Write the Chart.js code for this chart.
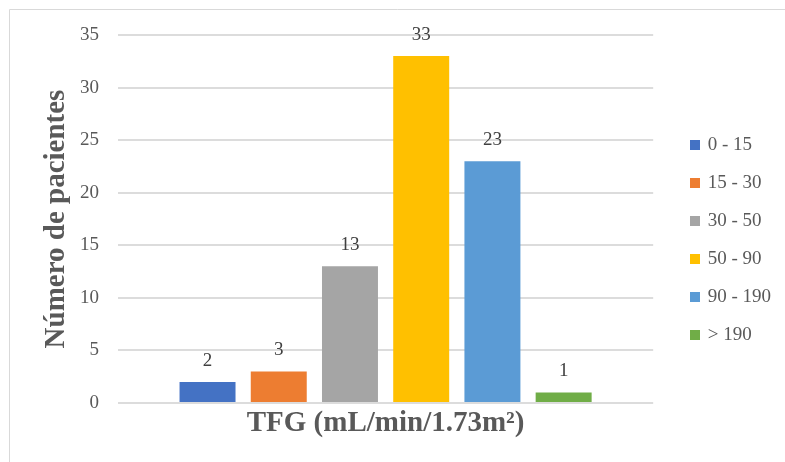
<!DOCTYPE html>
<html>
<head>
<meta charset="utf-8">
<script src="https://cdn.jsdelivr.net/npm/chart.js@4/dist/chart.umd.min.js"></script>
<style>
  html, body { margin: 0; padding: 0; background: #fff; }
  canvas { display: block; }
</style>
</head>
<body>
<canvas id="c" width="785" height="462"></canvas>
<script>
// Rangos de TFG y número de pacientes en cada uno
const rangos = ['0 - 15', '15 - 30', '30 - 50', '50 - 90', '90 - 190', '> 190'];
const pacientes = [2, 3, 13, 33, 23, 1];
const colores = ['#4472C4', '#ED7D31', '#A5A5A5', '#FFC000', '#5B9BD5', '#70AD47'];
const yTicks = [0, 5, 10, 15, 20, 25, 30, 35];

const SERIF = '"Liberation Serif", "Times New Roman", serif';

// Cuadradito de color de 10x10 para la leyenda
function cuadro(color) {
  const cv = document.createElement('canvas');
  cv.width = 10;
  cv.height = 10;
  const g = cv.getContext('2d');
  g.fillStyle = color;
  g.fillRect(0, 0, 10, 10);
  return cv;
}

// Marco exterior del gráfico
const marco = {
  id: 'marco',
  beforeDraw(chart) {
    const ctx = chart.ctx;
    ctx.save();
    ctx.strokeStyle = '#d9d9d9';
    ctx.lineWidth = 1;
    ctx.beginPath();
    ctx.moveTo(9.5, chart.height + 2);
    ctx.lineTo(9.5, 9.5);
    ctx.lineTo(chart.width + 2, 9.5);
    ctx.stroke();
    ctx.restore();
  }
};

// Etiquetas de valor encima de cada barra
const etiquetas = {
  id: 'etiquetas',
  afterDatasetsDraw(chart) {
    const ctx = chart.ctx;
    ctx.save();
    ctx.font = '19px ' + SERIF;
    ctx.fillStyle = '#404040';
    ctx.textAlign = 'center';
    ctx.textBaseline = 'middle';
    chart.data.datasets.forEach((ds, i) => {
      const meta = chart.getDatasetMeta(i);
      meta.data.forEach((bar, j) => {
        ctx.fillText(String(ds.data[j]), bar.x, bar.y - 21);
      });
    });
    ctx.restore();
  }
};

new Chart(document.getElementById('c'), {
  type: 'bar',
  data: {
    labels: [''],
    datasets: rangos.map((r, i) => ({
      label: r,
      data: [pacientes[i]],
      backgroundColor: colores[i],
      borderWidth: 0,
      categoryPercentage: 0.7985,
      barPercentage: 0.786
    }))
  },
  options: {
    responsive: false,
    animation: false,
    layout: { padding: { left: 0, top: 35, bottom: 17, right: 4 } },
    plugins: {
      tooltip: { enabled: false },
      legend: {
        position: 'right',
        labels: {
          usePointStyle: true,
          boxWidth: 6,
          boxHeight: 10,
          padding: 19,
          color: '#595959',
          font: { family: SERIF, size: 19 },
          generateLabels(chart) {
            const items = Chart.defaults.plugins.legend.labels.generateLabels(chart);
            items.forEach((it, i) => { it.pointStyle = cuadro(colores[i]); });
            return items;
          }
        }
      }
    },
    scales: {
      x: {
        grid: { display: false, drawTicks: false },
        border: { display: false },
        ticks: { display: false },
        title: {
          display: true,
          text: 'TFG (mL/min/1.73m²)',
          color: '#595959',
          font: { family: SERIF, size: 29, weight: 'bold' },
          padding: { top: 0, bottom: 4 }
        },
        afterFit(s) { s.height = 42; }
      },
      y: {
        min: 0,
        max: 35,
        afterBuildTicks(s) { s.ticks = yTicks.map(v => ({ value: v })); },
        grid: { color: '#dcdcdc', lineWidth: 2, drawTicks: false },
        border: { display: false },
        ticks: {
          padding: 19,
          color: '#595959',
          font: { family: SERIF, size: 19 }
        },
        title: {
          display: true,
          text: 'Número de pacientes',
          color: '#595959',
          font: { family: SERIF, size: 29, weight: 'bold' },
          padding: { top: 39, bottom: 0 }
        },
        afterFit(s) { s.width = 118; }
      },
      // hueco entre el área de trazado y la leyenda
      hueco: {
        type: 'linear',
        position: 'right',
        display: true,
        grid: { display: false, drawTicks: false },
        border: { display: false },
        ticks: { display: false },
        afterFit(s) { s.width = 20; }
      }
    }
  },
  plugins: [marco, etiquetas]
});
</script>
</body>
</html>
